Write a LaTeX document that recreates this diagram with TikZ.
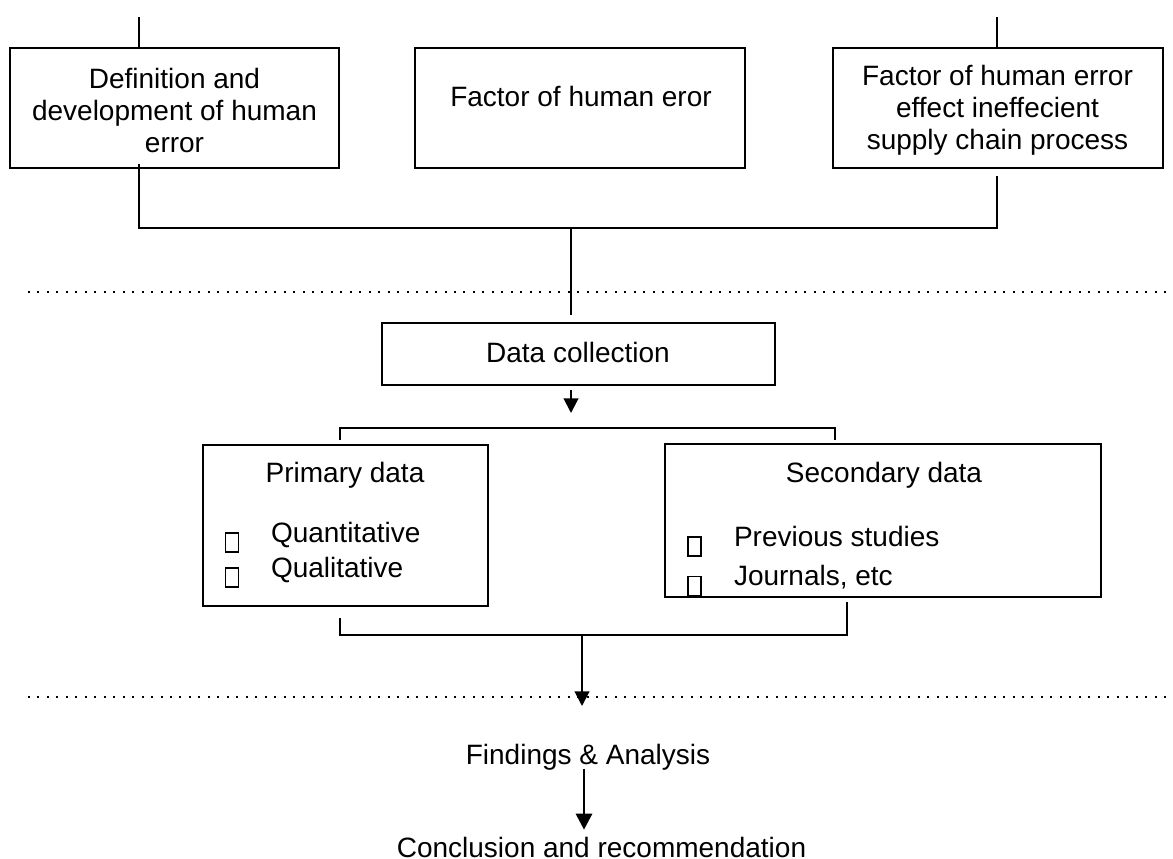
\documentclass[tikz,border=0pt]{standalone}
\usepackage{fontspec}
\setmainfont{Liberation Sans}
\usetikzlibrary{arrows.meta,calc}
\begin{document}
\begin{tikzpicture}[x=0.75pt,y=-0.75pt,
  line width=1.5pt,
  every node/.style={font=\fontsize{21}{24}\selectfont, inner sep=0pt},
  box/.style={draw, line width=1.5pt},
  tick/.style={draw, line width=1.3pt, minimum width=9.75pt, minimum height=14.25pt},
  lbl/.style={anchor=base},
  item/.style={anchor=base west},
  sep/.style={line width=1.5pt, dash pattern=on 1.5pt off 5.6pt},
  arr/.style={-{Triangle[width=11pt,length=11pt]}},
  bigarr/.style={line width=2.2pt, -{Triangle[width=12pt,length=12pt]}}
]
\useasboundingbox (0,0) rectangle (1173,859);

% ---- top row: research topics ----
\node[box, minimum width=246.75pt, minimum height=90pt] (b1) at (174.5,108) {};
\node[align=center] (t1) at (174.5,110) {Definition and\\development of human\\error};
\node[box, minimum width=247.5pt, minimum height=90pt] (b2) at (580,108) {};
\node (t2) at (581,96) {Factor of human eror};
\node[box, minimum width=247.5pt, minimum height=90pt] (b3) at (998,108) {};
\node[align=center] (t3) at (997.5,110) {Factor of human error\\effect ineffecient\\supply chain process};

\coordinate (u1) at (139,17);
\coordinate (u3) at (997,17);
\draw (u1) -- (u1 |- b1.north);
\draw (u3) -- (u3 |- b3.north);

% joining bracket below the top row
\coordinate (j1) at (139,228);
\coordinate (j3) at (997,228);
\coordinate (jm) at (571,228);
\draw ($(b1.south -| j1)+(0,-5)$) -- (j1) -- (j3) -- ($(b3.south -| j3)+(0,7)$);

% ---- separators ----
\coordinate (d1a) at (28,292);
\coordinate (d1b) at (1173,292);
\coordinate (d2a) at (28,697);
\coordinate (d2b) at (1173,697);
\draw[sep] (d1a) -- (d1b);
\draw[sep] (d2a) -- (d2b);

% ---- data collection ----
\node[box, minimum width=294.75pt, minimum height=46.5pt] (dc) at (578.5,354) {};
\node[lbl] (tdc) at (578,362) {Data collection};
\draw (jm) -- ($(jm |- dc.north)+(0,-7)$);

\coordinate (ac) at (571,413);
\draw[arr] ($(dc.south -| ac)+(0,4)$) -- (ac);

% ---- primary and secondary data ----
\node[box, minimum width=213.75pt, minimum height=120.75pt] (pd) at (345.5,525.5) {};
\node[lbl] (tpd) at (345,482) {Primary data};
\node[tick] (q1) at (232,542.5) {};
\node[tick] (q2) at (232,577.5) {};
\node[item] (tq1) at (270,542) {Quantitative};
\node[item] (tq2) at (270,577) {Qualitative};

\node[box, minimum width=327pt, minimum height=114.75pt] (sd) at (883,520.5) {};
\node[lbl] (tsd) at (884,482) {Secondary data};
\node[tick] (s1) at (694.5,546.5) {};
\node[tick] (s2) at (694.5,586) {};
\node[item] (ts1) at (733,546) {Previous studies};
\node[item] (ts2) at (733,585) {Journals, etc};

% bracket above the two data boxes
\coordinate (k1) at (340,428);
\coordinate (k2) at (835,428);
\draw ($(k1 |- pd.north)+(0,-4)$) -- (k1) -- (k2) -- ($(k2 |- sd.north)+(0,-3)$);

% bracket below the two data boxes
\coordinate (l1) at (340,635);
\coordinate (l2) at (847,635);
\coordinate (lm) at (582,635);
\draw ($(l1 |- pd.south)+(0,11)$) -- (l1) -- (l2) -- ($(l2 |- sd.south)+(0,4)$);

% ---- findings and conclusion ----
\coordinate (fa-in) at (582,706);
\draw[arr] (lm) -- (fa-in);

\node[lbl] (fa) at (588,764) {Findings \& Analysis};
\node[lbl] (cr) at (601.5,857) {Conclusion and recommendation};

\coordinate (ar) at (584,0);
\draw[bigarr] ($(fa.south -| ar)+(0,-2)$) -- ($(cr.north -| ar)+(0,-6)$);
\end{tikzpicture}
\end{document}
